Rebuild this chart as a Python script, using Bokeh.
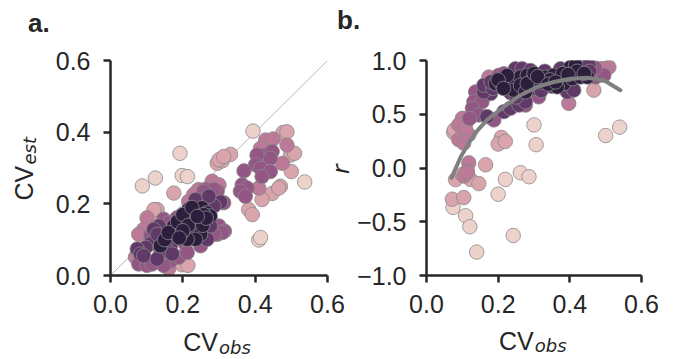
import numpy as np
from bokeh.plotting import figure
from bokeh.models import Range1d, FixedTicker, Label, ColumnDataSource
from bokeh.layouts import row, column
from bokeh.embed import file_html
from bokeh.resources import INLINE

# ---------------- data ----------------
# Panel a: CV_obs vs CV_est, colour level 0 (pale) .. 5 (dark)
a_cv_obs = [0.088, 0.124, 0.192, 0.198, 0.213, 0.394, 0.537, 0.410, 0.415,
            0.198, 0.214, 0.295, 0.309, 0.332, 0.300, 0.313, 0.175, 0.129, 0.111, 0.120,
            0.477, 0.488, 0.498, 0.509, 0.500, 0.470, 0.447, 0.465, 0.419, 0.382, 0.392,
            0.429, 0.450, 0.415, 0.488, 0.475, 0.410, 0.281, 0.300, 0.240, 0.244, 0.230,
            0.216, 0.101, 0.069, 0.092, 0.078, 0.161,
            0.429, 0.447, 0.442, 0.405, 0.401, 0.415, 0.442, 0.419, 0.369, 0.364, 0.378,
            0.359, 0.373, 0.295, 0.263, 0.313, 0.286, 0.258, 0.147, 0.161, 0.184, 0.295,
            0.207, 0.078, 0.101, 0.115, 0.138, 0.166, 0.147, 0.189, 0.111, 0.300, 0.315,
            0.309, 0.286, 0.258, 0.249, 0.212,
            0.267, 0.304, 0.235, 0.134, 0.120, 0.267, 0.276, 0.286, 0.272, 0.267, 0.166,
            0.157, 0.120, 0.111, 0.097, 0.074, 0.083, 0.092, 0.129, 0.129, 0.171,
            0.175, 0.194, 0.180, 0.171, 0.138, 0.212, 0.226, 0.240, 0.253, 0.244, 0.230,
            0.207, 0.267, 0.276, 0.221, 0.249, 0.235, 0.212, 0.258, 0.198, 0.216,
            0.150, 0.160, 0.185, 0.200, 0.215, 0.255, 0.265, 0.225, 0.240, 0.200, 0.190]
a_cv_est = [0.250, 0.272, 0.341, 0.279, 0.276, 0.403, 0.261, 0.099, 0.106,
            0.030, 0.028, 0.313, 0.320, 0.338, 0.323, 0.332, 0.230, 0.184, 0.161, 0.184,
            0.399, 0.401, 0.336, 0.341, 0.290, 0.249, 0.229, 0.244, 0.212, 0.184, 0.170,
            0.378, 0.381, 0.355, 0.364, 0.313, 0.244, 0.263, 0.253, 0.235, 0.240, 0.226,
            0.207, 0.161, 0.051, 0.129, 0.115, 0.019,
            0.336, 0.346, 0.327, 0.336, 0.309, 0.299, 0.290, 0.276, 0.292, 0.253, 0.244,
            0.235, 0.221, 0.235, 0.240, 0.203, 0.240, 0.235, 0.157, 0.147, 0.161, 0.115,
            0.088, 0.032, 0.028, 0.032, 0.060, 0.041, 0.028, 0.051, 0.111, 0.138, 0.124,
            0.120, 0.115, 0.111, 0.083, 0.064,
            0.215, 0.205, 0.212, 0.138, 0.129, 0.147, 0.138, 0.194, 0.221, 0.101, 0.083,
            0.069, 0.097, 0.088, 0.078, 0.074, 0.060, 0.055, 0.046, 0.115, 0.060,
            0.138, 0.134, 0.115, 0.111, 0.083, 0.157, 0.175, 0.184, 0.189, 0.157, 0.147,
            0.138, 0.175, 0.166, 0.124, 0.115, 0.101, 0.101, 0.170, 0.120, 0.184,
            0.100, 0.120, 0.150, 0.170, 0.140, 0.140, 0.160, 0.190, 0.165, 0.125, 0.105]
a_level = [0] * 9 + [1] * 22 + [2] * 17 + [3] * 38 + [4] * 21 + [5] * 32

# Panel b: CV_obs vs r
b_cv_obs = [0.300, 0.306, 0.500, 0.539, 0.220, 0.262, 0.286, 0.200, 0.074, 0.109, 0.121, 0.242, 0.140,
            0.467, 0.209, 0.200, 0.220, 0.165, 0.076, 0.081, 0.123, 0.100, 0.146, 0.072, 0.104, 0.078,
            0.090, 0.104, 0.118, 0.104, 0.100, 0.118, 0.114, 0.104, 0.090, 0.109, 0.174, 0.486, 0.509,
            0.495, 0.397, 0.114,
            0.202, 0.216, 0.137, 0.132, 0.155, 0.128, 0.146, 0.188, 0.313, 0.276, 0.472, 0.495, 0.120,
            0.470, 0.170,
            0.248, 0.267, 0.290, 0.179, 0.160, 0.169, 0.216, 0.234, 0.258, 0.276, 0.374, 0.435, 0.453,
            0.393, 0.411, 0.160, 0.185, 0.455, 0.330, 0.350, 0.235, 0.250, 0.300, 0.320, 0.180,
            0.193, 0.211, 0.230, 0.244, 0.262, 0.281, 0.295, 0.244, 0.262, 0.276, 0.281, 0.332, 0.355,
            0.402, 0.416, 0.383, 0.407, 0.430, 0.449, 0.365, 0.320, 0.345, 0.225, 0.380, 0.420,
            0.300, 0.310, 0.340, 0.360, 0.395, 0.440, 0.200, 0.215]
b_r = [0.401, 0.217, 0.302, 0.380, -0.106, -0.044, -0.081, -0.244, -0.367, -0.444, -0.546, -0.628, -0.782,
       0.724, 0.284, 0.223, 0.247, 0.030, 0.330, -0.108, -0.106, -0.060, -0.145, -0.290, -0.275, 0.355,
       0.263, 0.232, 0.309, 0.385, 0.462, 0.048, -0.029, -0.075, 0.401, 0.370, 0.846, 0.923, 0.938,
       0.923, 0.601, -0.044,
       0.862, 0.877, 0.708, 0.616, 0.616, 0.555, 0.493, 0.447, 0.662, 0.585, 0.846, 0.862, 0.460,
       0.930, 0.740,
       0.923, 0.923, 0.908, 0.693, 0.708, 0.478, 0.524, 0.555, 0.585, 0.616, 0.923, 0.969, 0.954,
       0.708, 0.724, 0.770, 0.740, 0.900, 0.900, 0.760, 0.700, 0.660, 0.740, 0.720, 0.800,
       0.785, 0.770, 0.800, 0.816, 0.846, 0.862, 0.816, 0.724, 0.770, 0.708, 0.785, 0.846, 0.862,
       0.938, 0.954, 0.785, 0.831, 0.846, 0.846, 0.754, 0.800, 0.820, 0.860, 0.880, 0.900,
       0.880, 0.850, 0.780, 0.800, 0.870, 0.880, 0.820, 0.740]
b_level = [0] * 13 + [1] * 13 + [2] * 16 + [3] * 15 + [4] * 25 + [5] * 33

# Grey fitted curve in panel b
fit_cv_obs = [0.070, 0.095, 0.123, 0.145, 0.169, 0.216, 0.262, 0.309, 0.355, 0.402, 0.448, 0.495, 0.541]
fit_r = [-0.090, 0.100, 0.263, 0.360, 0.447, 0.570, 0.677, 0.754, 0.800, 0.830, 0.840, 0.816, 0.724]

x_ticks = [0.0, 0.2, 0.4, 0.6]
x_tick_labels = ["0.0", "0.2", "0.4", "0.6"]
a_y_ticks = [0.0, 0.2, 0.4, 0.6]
a_y_tick_labels = ["0.0", "0.2", "0.4", "0.6"]
b_y_ticks = [-1.0, -0.5, 0.0, 0.5, 1.0]
b_y_tick_labels = ["\u22121.0", "\u22120.5", "0.0", "0.5", "1.0"]


# ---------------- styling helpers ----------------
def cubehelix(n, start=0.0, rot=0.4, gamma=1.0, hue=0.8, light=0.85, dark=0.15):
    cols = []
    for x in np.linspace(light, dark, n):
        xg = x ** gamma
        a = hue * xg * (1 - xg) / 2
        phi = 2 * np.pi * (start / 3 + rot * x)
        r = xg + a * (-0.14861 * np.cos(phi) + 1.78277 * np.sin(phi))
        g = xg + a * (-0.29227 * np.cos(phi) - 0.90649 * np.sin(phi))
        b = xg + a * (1.97294 * np.cos(phi))
        cols.append("#%02x%02x%02x" % tuple(int(round(float(np.clip(c, 0, 1)) * 255)) for c in (r, g, b)))
    return cols


PAL = cubehelix(6)
INK = "#262626"
FONT = "Liberation Sans"
MATH = "DejaVu Sans"
W, H = 673, 359


def make_fig(width, left, right, top, bottom, xr, yr, yticks, ylabels):
    p = figure(width=width, height=H, output_backend="svg", toolbar_location=None,
               x_range=Range1d(*xr), y_range=Range1d(*yr),
               min_border_left=left, min_border_right=right,
               min_border_top=top, min_border_bottom=bottom)
    p.outline_line_color = None
    p.grid.visible = False
    p.background_fill_color = "white"
    p.border_fill_color = "white"
    for ax, ticks, labels, standoff in ((p.xaxis[0], x_ticks, x_tick_labels, 12),
                                        (p.yaxis[0], yticks, ylabels, 13)):
        ax.ticker = FixedTicker(ticks=ticks)
        ax.major_label_overrides = {float(t): l for t, l in zip(ticks, labels)}
        ax.axis_line_width = 2.5
        ax.axis_line_color = INK
        ax.major_tick_line_width = 2.5
        ax.major_tick_line_color = INK
        ax.major_tick_out = 7
        ax.major_tick_in = 0
        ax.minor_tick_out = 0
        ax.minor_tick_in = 0
        ax.major_label_text_font = FONT
        ax.major_label_text_font_size = "25px"
        ax.major_label_text_color = INK
        ax.major_label_standoff = standoff
        ax.axis_label = None
    return p


def scatter(p, xs, ys, levels):
    order = sorted(range(len(xs)), key=lambda i: levels[i])
    src = ColumnDataSource(dict(x=[xs[i] for i in order], y=[ys[i] for i in order],
                                c=[PAL[levels[i]] for i in order]))
    p.scatter("x", "y", source=src, size=14.5, fill_color="c", line_color="#8a8a8a",
              line_width=0.8)


# ---------------- panel a ----------------
pa = make_fig(345, 110, 18, 58, 84, (0, 0.6), (0, 0.6), a_y_ticks, a_y_tick_labels)
pa.line([pa.x_range.start, pa.x_range.end], [pa.y_range.start, pa.y_range.end],
        line_color="#9a9a9a", line_width=0.7)
scatter(pa, a_cv_obs, a_cv_est, a_level)

# ---------------- panel b ----------------
pb = make_fig(W - 345, 81, 32, 60, 82, (0, 0.6), (-1, 1), b_y_ticks, b_y_tick_labels)
scatter(pb, b_cv_obs, b_r, b_level)
pb.line(fit_cv_obs, fit_r, line_color="#808080", line_width=4, line_cap="round", line_join="round")

# ---------------- text overlay (page pixel coordinates, y downwards) ----------------
ov = figure(width=W, height=H, output_backend="svg", toolbar_location=None,
            x_range=Range1d(0, W), y_range=Range1d(H, 0),
            x_axis_type=None, y_axis_type=None, min_border=0)
ov.outline_line_color = None
ov.grid.visible = False
ov.background_fill_alpha = 0
ov.border_fill_alpha = 0
ov.margin = (-H, 0, 0, 0)

SHIFT = 0.34  # measured baseline correction, in em


def add_text(x, y, text, size, font=FONT, style="normal", rotated=False):
    px = float(size.replace("px", ""))
    if rotated:
        x -= SHIFT * px
    else:
        y -= SHIFT * px
    ov.add_layout(Label(x=x, y=y, text=text, text_font=font, text_font_size=size,
                        text_font_style=style, text_color=INK, text_align="left",
                        text_baseline="alphabetic", angle=np.pi / 2 if rotated else 0.0))


add_text(27.5, 31.5, "a.", "26px", style="bold")
add_text(336.5, 28, "b.", "26px", style="bold")
# x labels
add_text(182.7, 350, "CV", "25px")
add_text(218.5, 353, "obs", "18px", font=MATH, style="italic")
add_text(498.5, 348.5, "CV", "25px")
add_text(534.3, 351.5, "obs", "18px", font=MATH, style="italic")
# y labels
add_text(32, 200, "CV", "25px", rotated=True)
add_text(35, 164, "est", "18px", font=MATH, style="italic", rotated=True)
add_text(348, 173.5, "r", "23px", font=MATH, style="italic", rotated=True)

layout = column(row(pa, pb, spacing=0), ov, spacing=0)
open("out.html", "w").write(file_html(layout, INLINE))
